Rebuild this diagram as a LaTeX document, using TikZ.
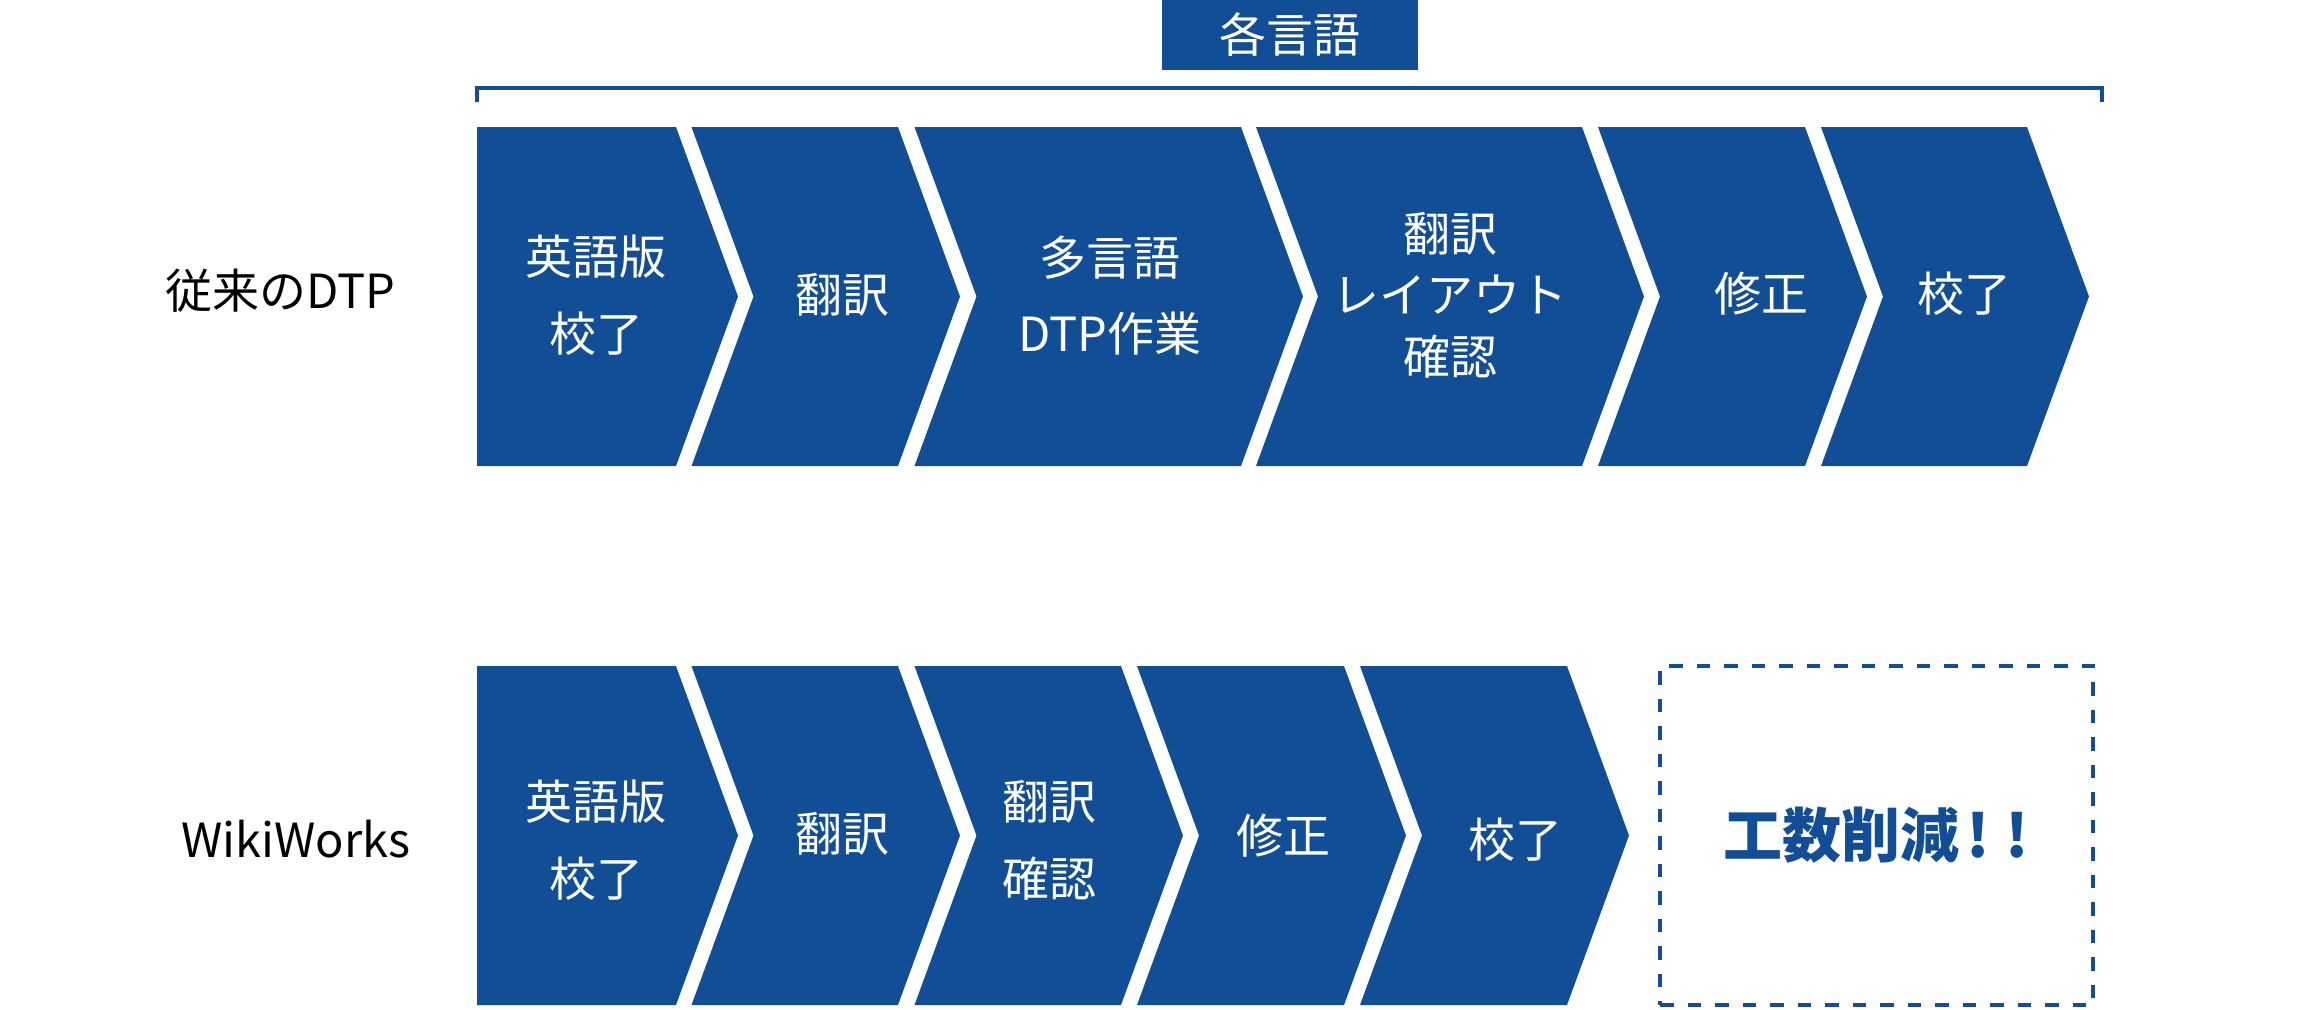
\documentclass[tikz,border=0pt]{standalone}
\usepackage{fontspec}
\setmainfont{Noto Sans CJK JP}
\usepackage{tikz}
\usetikzlibrary{positioning}
\definecolor{wwblue}{RGB}{17,78,150}

\begin{document}
\begin{tikzpicture}[x=0.5pt, y=-0.5pt,
    stage/.style={fill=wwblue},
    stagetext/.style={text=white, align=center, inner sep=0pt,
      font=\fontsize{23.5}{38.3}\selectfont},
    rowlabel/.style={text=black, inner sep=0pt, font=\fontsize{23.5}{28}\selectfont}]

    \useasboundingbox (0,0) rectangle (2303,1009);

    % label over the per-language steps
    \node[fill=wwblue, text=white, inner sep=0pt, minimum width=128pt,
      minimum height=35pt, font=\fontsize{23.5}{28}\selectfont] (lang) at (1290,35) {各言語};
    \draw[wwblue, line width=2pt] (477,102) -- (477,88.3) -- (2102,88.3) -- (2102,102);

    % first step of each row, flat left side
    \foreach \y in {127, 666} {
      \fill[stage] (477,\y) -- (676,\y) -- (738,{\y+169.5}) -- (676,{\y+339})
        -- (477,{\y+339}) -- cycle;
    }
    % the other steps
    \foreach \l/\r/\y in {691.5/898/127, 914.5/1241/127, 1256/1582/127,
      1598/1805/127, 1821/2027/127, 691.5/898/666, 914.5/1121/666,
      1137/1344/666, 1360/1567/666} {
      \fill[stage] (\l,\y) -- (\r,\y) -- ({\r+62},{\y+169.5}) -- (\r,{\y+339})
        -- (\l,{\y+339}) -- ({\l+62},{\y+169.5}) -- cycle;
    }

    % row labels
    \node[rowlabel] (dtp) at (280,291) {従来のDTP};
    \node[rowlabel] (wiki) at (296,839) {WikiWorks};

    % upper row
    \node[stagetext] (dtp1) at (596,295) {英語版\\校了};
    \node[stagetext] (dtp2) at (842,295) {翻訳};
    \node[stagetext] (dtp3) at (1110,295.5) {多言語\\DTP作業};
    \node[stagetext, font=\fontsize{23.5}{30.75}\selectfont] (dtp4) at (1450,295) {翻訳\\レイアウト\\確認};
    \node[stagetext] (dtp5) at (1761,294) {修正};
    \node[stagetext] (dtp6) at (1964,294) {校了};

    % lower row
    \node[stagetext] (wiki1) at (596,840) {英語版\\校了};
    \node[stagetext] (wiki2) at (842,834) {翻訳};
    \node[stagetext] (wiki3) at (1049,840) {翻訳\\確認};
    \node[stagetext] (wiki4) at (1283,836) {修正};
    \node[stagetext] (wiki5) at (1515,840) {校了};

    \node[draw=wwblue, line width=2.25pt, dash pattern=on 6.75pt off 7pt,
      minimum width=216.5pt, minimum height=169.5pt, inner sep=0pt, text=wwblue,
      font=\bfseries\fontsize{29.5}{34}\selectfont] (cut) at (1876.5,835.5)
      {工数削減\kern3.5pt!\kern8pt!};

  \end{tikzpicture}
\end{document}
